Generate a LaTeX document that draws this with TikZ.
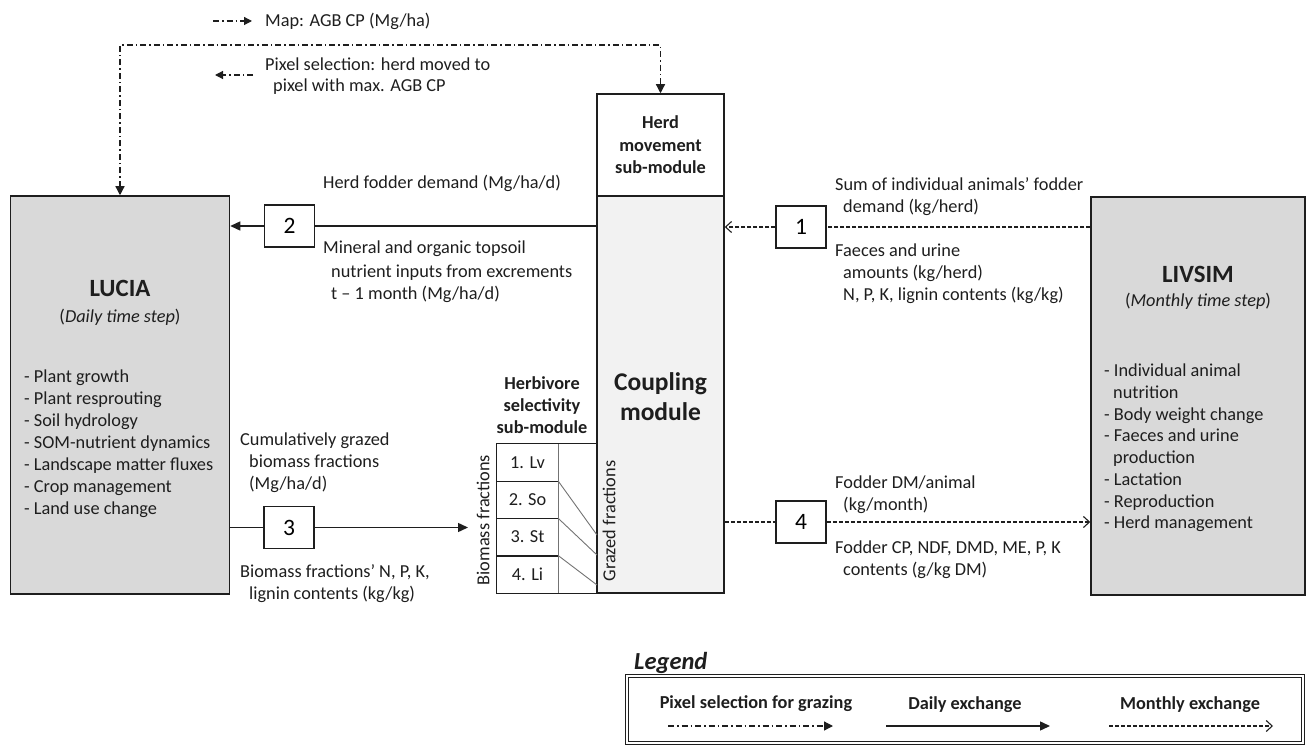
\documentclass[tikz,border=0pt]{standalone}
\usepackage{fontspec}
\setmainfont{Carlito}
\usetikzlibrary{arrows.meta}
\definecolor{lgray}{HTML}{D9D9D9}
\definecolor{cgray}{HTML}{F2F2F2}
\definecolor{ink}{HTML}{1E1E1E}
\begin{document}
\begin{tikzpicture}[x=1pt,y=-1pt,
  box/.style={draw=ink, line width=1.5pt, inner sep=0pt},
  numbox/.style={box, fill=white, minimum width=50pt, minimum height=42pt, font=\fontsize{23.5}{28}\selectfont},
  lbl/.style={text=ink, font=\fontsize{18.3}{22}\selectfont, inner sep=0pt, anchor=base west},
  lblc/.style={text=ink, font=\fontsize{18.3}{22}\selectfont, inner sep=0pt, anchor=base},
  blbl/.style={text=ink, font=\bfseries\fontsize{18.3}{22}\selectfont, inner sep=0pt, anchor=base},
  ttl/.style={text=ink, font=\bfseries\fontsize{24.8}{30}\selectfont, inner sep=0pt, anchor=base},
  cell/.style={minimum width=61pt, minimum height=37.25pt, inner sep=0pt, text=ink, font=\fontsize{18.3}{22}\selectfont},
  rot/.style={text=ink, font=\fontsize{18.3}{22}\selectfont, inner sep=0pt, rotate=90},
  tline/.style={draw=ink, line width=1.2pt},
  diag/.style={draw=black!55, line width=0.9pt},
  daily/.style={draw=ink, line width=1.4pt},
  dtip/.style={-{Triangle[length=10pt,width=9pt]}},
  monthlyline/.style={draw=ink, line width=1.2pt, dash pattern=on 4pt off 2pt},
  monthly/.style={monthlyline, -{Straight Barb[length=6pt,width=11pt,line width=1.1pt]}},
  pixel/.style={draw=ink, line width=1.2pt, dash pattern=on 6pt off 3pt on 1.5pt off 3pt},
  ptip/.style={-{Triangle[length=9pt,width=9pt]}},
]
\useasboundingbox (0,0) rectangle (1307,746);

% main boxes
\node[box, fill=lgray, minimum width=219pt, minimum height=398pt] (lucia) at (120,395) {};
\node[box, fill=cgray, minimum width=127pt, minimum height=397pt] (coup) at (660.5,394.5) {};
\node[box, fill=white, minimum width=127pt, minimum height=102pt] (herd) at (660.5,145) {};
\node[box, fill=lgray, minimum width=214pt, minimum height=398pt] (livsim) at (1198,396) {};

% LUCIA text
\node[ttl] (luciat) at (120,297) {LUCIA};
\node[lblc] (luciad) at (120,323) {(\textit{Daily time step})};
\node[lbl] (lu1) at (24,382) {- Plant growth};
\node[lbl] (lu2) at (24,404) {- Plant resprouting};
\node[lbl] (lu3) at (24,426) {- Soil hydrology};
\node[lbl] (lu4) at (24,448) {- SOM-nutrient dynamics};
\node[lbl] (lu5) at (24,470) {- Landscape matter fluxes};
\node[lbl] (lu6) at (24,492) {- Crop management};
\node[lbl] (lu7) at (24,514) {- Land use change};

% LIVSIM text
\node[ttl] (livt) at (1198,283) {LIVSIM};
\node[lblc] (livd) at (1198,306) {(\textit{Monthly time step})};
\node[lbl] (lv1) at (1104,376) {- Individual animal};
\node[lbl] (lv2) at (1113,398) {nutrition};
\node[lbl] (lv3) at (1104,420) {- Body weight change};
\node[lbl] (lv4) at (1104,441.5) {- Faeces and urine};
\node[lbl] (lv5) at (1113,463) {production};
\node[lbl] (lv6) at (1104,485) {- Lactation};
\node[lbl] (lv7) at (1104,507) {- Reproduction};
\node[lbl] (lv8) at (1104,528) {- Herd management};

% herd movement and coupling text
\node[blbl] (hm1) at (660.5,129) {Herd};
\node[blbl] (hm2) at (660.5,152) {movement};
\node[blbl] (hm3) at (660.5,174) {sub-module};
\node[text=ink, font=\bfseries\fontsize{25.5}{30}\selectfont, inner sep=0pt, anchor=base] (cm1) at (660.5,390) {Coupling};
\node[text=ink, font=\bfseries\fontsize{25.5}{30}\selectfont, inner sep=0pt, anchor=base] (cm2) at (660.5,420) {module};

% herbivore selectivity
\node[blbl] (hs1) at (542,389) {Herbivore};
\node[blbl] (hs2) at (542,411) {selectivity};
\node[blbl] (hs3) at (542,433) {sub-module};
\node[cell] (r1) at (527.5,462.625) {1. Lv};
\node[cell] (r2) at (527.5,499.875) {2. So};
\node[cell] (r3) at (527.5,537.125) {3. St};
\node[cell] (r4) at (527.5,574.375) {4. Li};
\draw[diag] (r1.north east) -- (r4.south east);
\draw[tline] (r1.north east -| coup.west) -- (r1.north west) -- (r4.south west) -- (r4.south east -| coup.west);
\draw[tline] (r1.south west) -- (r1.south east);
\draw[tline] (r2.south west) -- (r2.south east);
\draw[tline] (r3.south west) -- (r3.south east);
\coordinate (g1) at (597,535);
\coordinate (g2) at (597,555);
\coordinate (g3) at (597,585);
\draw[diag] (r2.north east) -- (g1);
\draw[diag] (r3.north east) -- (g2);
\draw[diag] (r4.north east) -- (g3);
\node[rot] (bfr) at (483,520) {Biomass fractions};
\node[rot] (gfr) at (609,521) {Grazed fractions};

% connector 2
\node[numbox] (b2) at (289.5,226) {2};
\draw[daily] (coup.west |- b2) -- (b2.east);
\draw[daily, dtip] (b2.west) -- (lucia.east |- b2);
\node[lbl] (t2a) at (323,189) {Herd fodder demand (Mg/ha/d)};
\node[lbl] (t2b) at (323,254) {Mineral and organic topsoil};
\node[lbl] (t2c) at (331,277) {nutrient inputs from excrements};
\node[lbl] (t2d) at (331,299) {t – 1 month (Mg/ha/d)};

% connector 3
\node[numbox] (b3) at (289,527.5) {3};
\coordinate (tip3) at (468,527.5);
\draw[daily] (lucia.east |- b3) -- (b3.west);
\draw[daily, dtip] (b3.east) -- (tip3);
\node[lbl] (t3a) at (240,445) {Cumulatively grazed};
\node[lbl] (t3b) at (249,467) {biomass fractions};
\node[lbl] (t3c) at (249,489) {(Mg/ha/d)};
\node[lbl] (t3d) at (240,577) {Biomass fractions’ N, P, K,};
\node[lbl] (t3e) at (249,599) {lignin contents (kg/kg)};

% connector 1
\node[numbox] (b1) at (801,227) {1};
\draw[monthlyline] (livsim.west |- b1) -- (b1.east);
\draw[monthly] (b1.west) -- (coup.east |- b1);
\node[lbl] (t1a) at (835,191) {Sum of individual animals’ fodder};
\node[lbl] (t1b) at (843,213) {demand (kg/herd)};
\node[lbl] (t1c) at (835,257) {Faeces and urine};
\node[lbl] (t1d) at (843,279) {amounts (kg/herd)};
\node[lbl] (t1e) at (843,301) {N, P, K, lignin contents (kg/kg)};

% connector 4
\node[numbox] (b4) at (801,522) {4};
\draw[monthlyline] (coup.east |- b4) -- (b4.west);
\draw[monthly] (b4.east) -- (livsim.west |- b4);
\node[lbl] (t4a) at (835,488) {Fodder DM/animal};
\node[lbl] (t4b) at (843,510) {(kg/month)};
\node[lbl] (t4c) at (835,553) {Fodder CP, NDF, DMD, ME, P, K};
\node[lbl] (t4d) at (843,575) {contents (g/kg DM)};

% pixel selection loop
\coordinate (topl) at (0,45);
\draw[pixel, {Triangle[length=9pt,width=9pt]}-{Triangle[length=9pt,width=9pt]}] (lucia.north) -- (lucia.north |- topl) -- (herd.north |- topl) -- (herd.north);
\coordinate (m1) at (213,21);
\coordinate (m2) at (252,21);
\draw[pixel, -{Triangle[length=8pt,width=8pt]}] (m1) -- (m2);
\node[lbl] (tm) at (265,27) {Map: AGB CP (Mg/ha)};
\coordinate (p1) at (253,75);
\coordinate (p2) at (215,75);
\draw[pixel, -{Triangle[length=8pt,width=8pt]}] (p1) -- (p2);
\node[lbl] (tp1) at (265,71) {Pixel selection: herd moved to};
\node[lbl] (tp2) at (273,92) {pixel with max. AGB CP};

% legend
\node[text=ink, font=\bfseries\itshape\fontsize{24.5}{29}\selectfont, inner sep=0pt, anchor=base west] (legt) at (634,669) {Legend};
\node[draw=ink, double, double distance=2pt, line width=0.9pt, minimum width=676pt, minimum height=67pt, inner sep=0pt] (legbox) at (965,709.5) {};
\node[blbl] (lg1) at (756,708) {Pixel selection for grazing};
\node[blbl] (lg2) at (965,709) {Daily exchange};
\node[blbl] (lg3) at (1190,709) {Monthly exchange};
\coordinate (la1) at (668,726);
\coordinate (la2) at (833,726);
\coordinate (lb1) at (886,726);
\coordinate (lb2) at (1050,726);
\coordinate (lc1) at (1109,726);
\coordinate (lc2) at (1273,726);
\draw[pixel, ptip] (la1) -- (la2);
\draw[daily, dtip] (lb1) -- (lb2);
\draw[monthly] (lc1) -- (lc2);
\end{tikzpicture}
\end{document}
